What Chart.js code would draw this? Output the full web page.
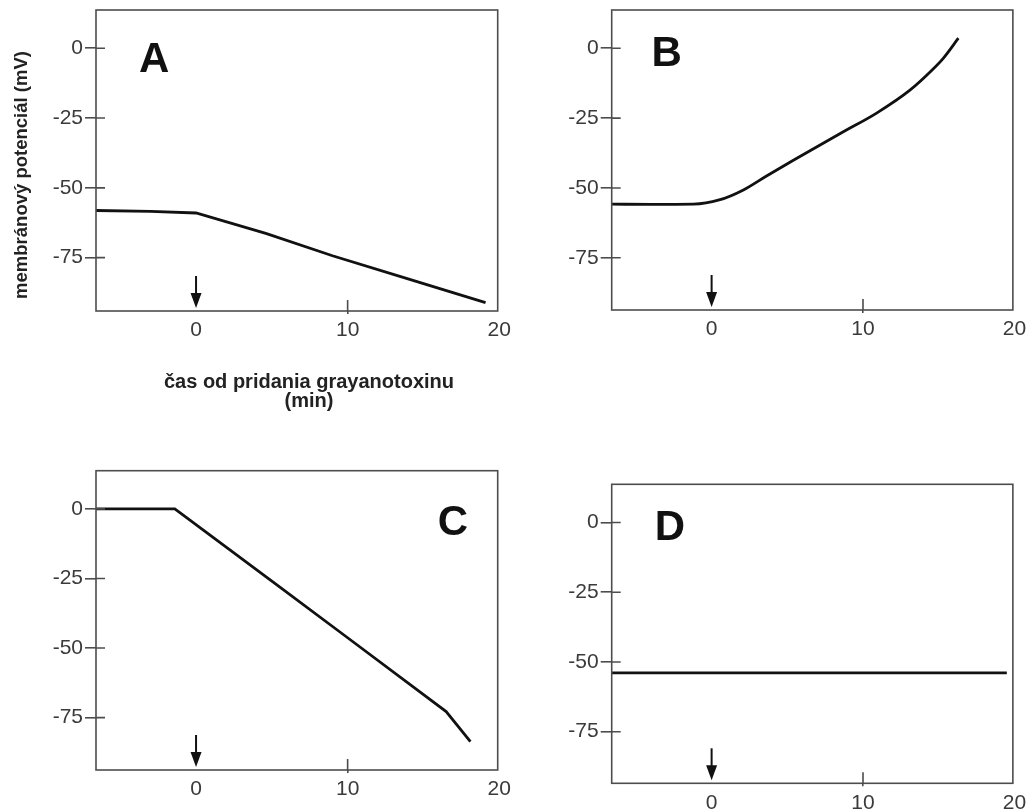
<!DOCTYPE html>
<html>
<head>
<meta charset="utf-8">
<script src="https://cdn.jsdelivr.net/npm/chart.js@4.4.1/dist/chart.umd.min.js"></script>
<style>
  html, body { margin:0; padding:0; background:#fff; width:1030px; height:812px; overflow:hidden; }
  canvas { position:absolute; }
</style>
</head>
<body>
<canvas id="cA"></canvas>
<canvas id="cB"></canvas>
<canvas id="cC"></canvas>
<canvas id="cD"></canvas>
<script>
// ---- values: time (min) vs membrane potential (mV) ----
const timeA = [-6.6, -3, 0, 4.6, 9, 13.5, 19.1];
const mvA   = [-58.1, -58.4, -59, -66.3, -74.3, -81.8, -91.1];

const timeB = [-6.6, -4, -1.2, 0.5, 2.1, 3.6, 5.4, 8.7, 10.9, 13.1, 14.6, 15.3, 16.3];
const mvB   = [-55.8, -55.9, -55.8, -54.3, -50.7, -45.8, -40.1, -29.9, -23.2, -15.0, -7.6, -3.6, 3.6];

const timeC = [-6.6, -1.4, 5, 10, 16.5, 18.1];
const mvC   = [0, 0, -26, -46.3, -72.8, -83.6];

const timeD = [-6.6, 19.5];
const mvD   = [-53.9, -53.9];

const xTicks = [0, 10, 20];
const yTicks = [0, -25, -50, -75];
const arrowTime = 0;           // toxin added
const yTitle = "membránový potenciál (mV)";
const xTitle = ["čas od pridania grayanotoxinu", "(min)"];

// ---- look ----
const INK = "#111", FRAME = "#4d4d4d", TXT = "#3a3a3a";
const FONT = "Arial, 'Liberation Sans', sans-serif";
const XH = 40; // fixed height of x axis band

// frame, inner tick stubs, arrow, panel letter, titles
const decor = {
  id: "decor",
  afterDraw(chart, args, o){
    const { ctx, chartArea:a, scales:{x, y} } = chart;
    ctx.save();
    ctx.strokeStyle = FRAME; ctx.lineWidth = 1.6;
    ctx.strokeRect(a.left, a.top, a.right - a.left, a.bottom - a.top);
    ctx.beginPath();
    yTicks.forEach(v => { const py = y.getPixelForValue(v); ctx.moveTo(a.left, py); ctx.lineTo(a.left + 9, py); });
    xTicks.filter(v => v !== arrowTime && v < x.max).forEach(v => {
      const px = x.getPixelForValue(v); ctx.moveTo(px, a.bottom); ctx.lineTo(px, a.bottom - 11);
    });
    ctx.stroke();

    // arrow at time of addition
    const ax = x.getPixelForValue(arrowTime);
    ctx.strokeStyle = INK; ctx.lineWidth = 2;
    ctx.beginPath(); ctx.moveTo(ax, a.bottom - 35); ctx.lineTo(ax, a.bottom - 15); ctx.stroke();
    ctx.fillStyle = INK;
    ctx.beginPath(); ctx.moveTo(ax - 5.5, a.bottom - 18); ctx.lineTo(ax + 5.5, a.bottom - 18); ctx.lineTo(ax, a.bottom - 3); ctx.closePath(); ctx.fill();

    // panel letter
    ctx.font = "bold 42px " + FONT; ctx.textAlign = "center"; ctx.textBaseline = "alphabetic";
    ctx.fillText(o.letter, x.getPixelForValue(o.lx), y.getPixelForValue(o.ly) + 15);

    if (o.titles) {
      ctx.fillStyle = "#222";
      ctx.font = "bold 20px " + FONT;
      ctx.fillText(xTitle[0], a.left + 213, a.bottom + 77);
      ctx.fillText(xTitle[1], a.left + 213, a.bottom + 96);
      ctx.save();
      ctx.translate(a.left - 74, a.top + 165);
      ctx.rotate(-Math.PI / 2);
      ctx.font = "bold 18.5px " + FONT; ctx.textBaseline = "middle";
      ctx.fillText(yTitle, 0, 0);
      ctx.restore();
    }
    ctx.restore();
  }
};

function panel(id, box, times, values, yMin, letter, lx, ly, smooth, titles){
  const cv = document.getElementById(id);
  cv.width = box.w; cv.height = box.h;
  cv.style.left = box.cx + "px"; cv.style.top = box.cy + "px";
  return new Chart(cv, {
    type: "line",
    data: {
      datasets: [{
        data: times.map((t, i) => ({ x: t, y: values[i] })),
        borderColor: INK, borderWidth: 2.8, pointRadius: 0,
        tension: 0, cubicInterpolationMode: smooth ? "monotone" : "default",
        fill: false
      }]
    },
    options: {
      responsive: false, animation: false, devicePixelRatio: 1,
      layout: { padding: {
        left: 0, top: box.t - box.cy,
        right: box.cx + box.w - box.r,
        bottom: box.cy + box.h - box.b - XH
      } },
      plugins: {
        legend: { display: false }, tooltip: { enabled: false },
        decor: { letter, lx, ly, titles }
      },
      scales: {
        x: {
          type: "linear", min: -6.6, max: 19.9,
          afterBuildTicks: s => { s.ticks = xTicks.map(v => ({ value: v })); },
          afterFit: s => { s.height = XH; },
          border: { display: false },
          grid: {
            drawOnChartArea: false, tickLength: 3, lineWidth: 1.6,
            color: c => (c.tick && c.tick.value !== arrowTime && c.tick.value < 19.9) ? FRAME : "rgba(0,0,0,0)"
          },
          ticks: { padding: 4, color: TXT, font: { family: FONT, size: 21 }, maxRotation: 0, autoSkip: false }
        },
        y: {
          min: yMin, max: 13.7,
          afterBuildTicks: s => { s.ticks = yTicks.map(v => ({ value: v })); },
          afterFit: s => { s.width = box.l - box.cx; },
          border: { display: false },
          grid: { drawOnChartArea: false, tickLength: 11, lineWidth: 1.6, color: FRAME },
          ticks: { padding: 2, color: TXT, font: { family: FONT, size: 21 } }
        }
      }
    },
    plugins: [decor]
  });
}

panel("cA", { cx:0,   cy:-20, w:515, h:450, l:96,    t:10,    r:497.7,  b:311 },   timeA, mvA, -94.1, "A", -2.77, -3.1,  false, true);
panel("cB", { cx:515, cy:-20, w:515, h:450, l:611.7, t:10,    r:1013.3, b:310 },   timeB, mvB, -93.7, "B", -2.97, -0.97, true,  false);
panel("cC", { cx:0,   cy:430, w:515, h:382, l:96,    t:470.7, r:497.7,  b:770 },   timeC, mvC, -93.8, "C", 16.94, -3.95, false, false);
panel("cD", { cx:515, cy:430, w:515, h:420, l:611.7, t:484.3, r:1013.3, b:783.3 }, timeD, mvD, -93.5, "D", -2.75, -0.83, false, false);
</script>
</body>
</html>
